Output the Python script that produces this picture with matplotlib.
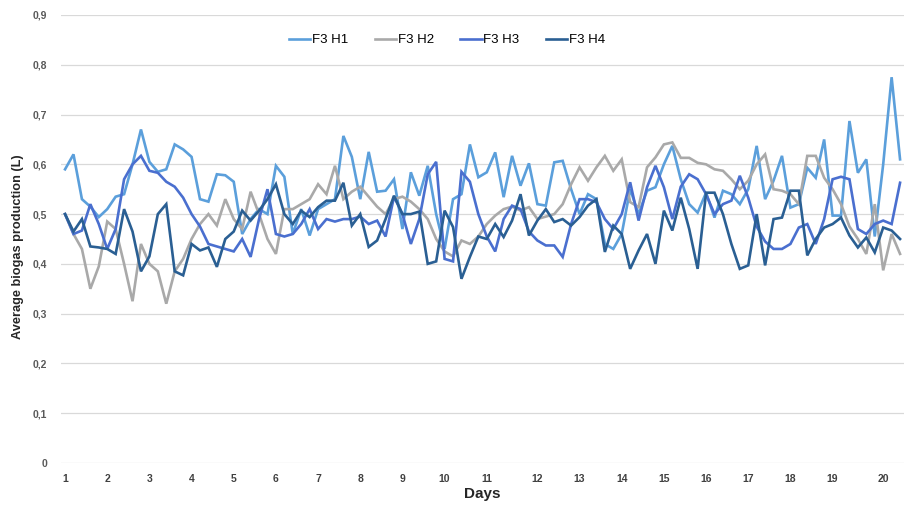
import numpy as np
from matplotlib import pyplot as plt

# average biogas production per reading (L), 100 readings over 20 days
f3h1 = [0.59, 0.62, 0.53, 0.515, 0.494, 0.51, 0.535, 0.54, 0.60, 0.67,
        0.605, 0.585, 0.59, 0.64, 0.63, 0.615, 0.53, 0.525, 0.58, 0.578,
        0.565, 0.46, 0.49, 0.51, 0.50, 0.597, 0.575, 0.46, 0.51, 0.457,
        0.51, 0.52, 0.53, 0.657, 0.615, 0.53, 0.625, 0.545, 0.547, 0.57,
        0.47, 0.584, 0.537, 0.597, 0.50, 0.43, 0.53, 0.54, 0.64, 0.574,
        0.584, 0.624, 0.534, 0.617, 0.557, 0.602, 0.52, 0.517, 0.604, 0.607,
        0.55, 0.50, 0.54, 0.53, 0.44, 0.43, 0.46, 0.55, 0.50, 0.547,
        0.554, 0.60, 0.637, 0.57, 0.52, 0.503, 0.543, 0.493, 0.547, 0.54,
        0.52, 0.55, 0.637, 0.53, 0.567, 0.617, 0.513, 0.52, 0.593, 0.573,
        0.65, 0.497, 0.497, 0.687, 0.583, 0.61, 0.455, 0.60, 0.775, 0.61]

f3h2 = [0.50, 0.46, 0.43, 0.35, 0.395, 0.485, 0.47, 0.40, 0.325, 0.44,
        0.40, 0.385, 0.32, 0.385, 0.41, 0.45, 0.48, 0.50, 0.477, 0.53,
        0.49, 0.47, 0.545, 0.50, 0.45, 0.42, 0.51, 0.51, 0.52, 0.53,
        0.56, 0.54, 0.597, 0.53, 0.545, 0.555, 0.535, 0.515, 0.50, 0.53,
        0.535, 0.525, 0.51, 0.49, 0.45, 0.425, 0.415, 0.447, 0.44, 0.455,
        0.48, 0.497, 0.51, 0.515, 0.507, 0.514, 0.49, 0.495, 0.50, 0.52,
        0.56, 0.594, 0.567, 0.594, 0.617, 0.587, 0.61, 0.524, 0.514, 0.594,
        0.614, 0.64, 0.644, 0.613, 0.613, 0.603, 0.60, 0.59, 0.587, 0.57,
        0.55, 0.567, 0.60, 0.62, 0.55, 0.547, 0.54, 0.52, 0.617, 0.617,
        0.573, 0.55, 0.52, 0.475, 0.45, 0.42, 0.52, 0.387, 0.46, 0.42]

f3h3 = [0.50, 0.46, 0.467, 0.52, 0.48, 0.43, 0.47, 0.57, 0.60, 0.617,
        0.587, 0.583, 0.565, 0.555, 0.533, 0.50, 0.475, 0.44, 0.435, 0.43,
        0.425, 0.45, 0.414, 0.49, 0.55, 0.46, 0.455, 0.46, 0.48, 0.51,
        0.47, 0.49, 0.485, 0.49, 0.49, 0.495, 0.48, 0.487, 0.455, 0.535,
        0.50, 0.44, 0.49, 0.58, 0.605, 0.41, 0.405, 0.585, 0.565, 0.50,
        0.455, 0.425, 0.49, 0.517, 0.51, 0.465, 0.447, 0.437, 0.437, 0.414,
        0.48, 0.53, 0.53, 0.524, 0.49, 0.47, 0.50, 0.564, 0.487, 0.554,
        0.597, 0.554, 0.49, 0.555, 0.58, 0.57, 0.54, 0.50, 0.52, 0.527,
        0.577, 0.533, 0.475, 0.445, 0.43, 0.43, 0.44, 0.473, 0.48, 0.44,
        0.49, 0.57, 0.575, 0.57, 0.47, 0.46, 0.48, 0.487, 0.48, 0.563]

f3h4 = [0.50, 0.465, 0.49, 0.435, 0.433, 0.43, 0.42, 0.51, 0.465, 0.385,
        0.415, 0.50, 0.52, 0.385, 0.377, 0.44, 0.427, 0.433, 0.394, 0.45,
        0.465, 0.507, 0.487, 0.507, 0.53, 0.56, 0.50, 0.48, 0.507, 0.494,
        0.514, 0.527, 0.527, 0.563, 0.477, 0.50, 0.434, 0.447, 0.49, 0.537,
        0.50, 0.50, 0.505, 0.40, 0.405, 0.507, 0.474, 0.37, 0.414, 0.455,
        0.45, 0.48, 0.454, 0.487, 0.54, 0.457, 0.487, 0.51, 0.484, 0.49,
        0.477, 0.494, 0.517, 0.53, 0.424, 0.477, 0.46, 0.39, 0.427, 0.46,
        0.40, 0.507, 0.467, 0.533, 0.47, 0.39, 0.543, 0.543, 0.50, 0.44,
        0.39, 0.397, 0.50, 0.397, 0.49, 0.493, 0.547, 0.547, 0.417, 0.45,
        0.473, 0.48, 0.493, 0.457, 0.433, 0.453, 0.423, 0.473, 0.467, 0.45]

series = {'F3 H1': f3h1, 'F3 H2': f3h2, 'F3 H3': f3h3, 'F3 H4': f3h4}
colors = ['#5b9fdb', '#a9a9a9', '#4a6fcf', '#2a5f93']

# reading index at which each day label sits
day_ticks = [0, 5, 10, 15, 20, 25, 30, 35, 40, 45, 50, 56, 61, 66, 71, 76, 81, 86, 91, 97]
day_labels = [str(d) for d in range(1, 21)]
y_ticks = [0, 0.1, 0.2, 0.3, 0.4, 0.5, 0.6, 0.7, 0.8, 0.9]
y_labels = ['0', '0,1', '0,2', '0,3', '0,4', '0,5', '0,6', '0,7', '0,8', '0,9']

plt.rcParams['font.family'] = ['Liberation Sans', 'DejaVu Sans']

fig = plt.figure(figsize=(9.08, 5.08), dpi=100)
ax = fig.add_axes([0.067, 0.0886, 0.9289, 0.8819])

x = np.arange(len(f3h1))
for (name, vals), c in zip(series.items(), colors):
    ax.plot(x, vals, color=c, lw=1.9, label=name, solid_joinstyle='miter')

ax.set_xlim(-0.5, len(f3h1) - 0.5)
ax.set_ylim(0, 0.9)
ax.set_yticks(y_ticks)
ax.set_yticklabels(y_labels, fontsize=7.5, fontweight='bold', color='#595959')
ax.set_xticks(day_ticks)
ax.set_xticklabels(day_labels, fontsize=7.5, fontweight='bold', color='#404040')
ax.tick_params(axis='both', length=0)
ax.tick_params(axis='y', pad=10)
ax.tick_params(axis='x', pad=8)

ax.grid(axis='y', color='#d9d9d9', lw=0.9)
ax.set_axisbelow(True)
for s in ax.spines.values():
    s.set_visible(False)

ax.set_xlabel('Days', fontsize=11, fontweight='bold', color='#262626', labelpad=2)
ax.set_ylabel('Average biogas production (L)', fontsize=9.2, fontweight='bold',
              color='#262626')
ax.yaxis.set_label_coords(-0.044, 0.482)

ax.legend(loc='center', bbox_to_anchor=(0.458, 0.944), ncol=4, frameon=False,
          fontsize=9.5, handlelength=1.6, handletextpad=0.15, columnspacing=2.0)

fig.savefig('out.png', dpi=100)
